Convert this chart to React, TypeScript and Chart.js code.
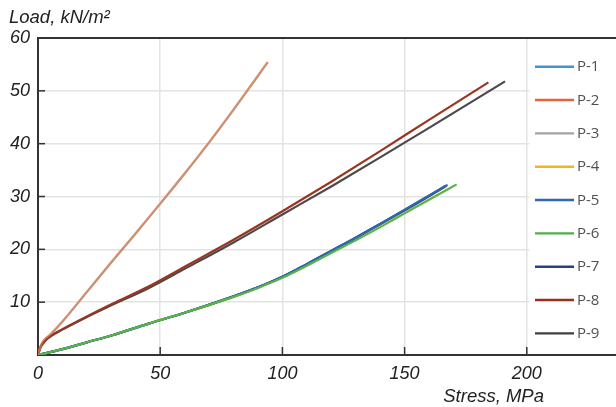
import React, { useEffect, useRef } from "react";
import { Chart, registerables } from "chart.js";

Chart.register(...registerables);

// ---- data ----
const seriesNames = ["P-1", "P-2", "P-3", "P-4", "P-5", "P-6", "P-7", "P-8", "P-9"];
const legendColors = ["#3d94d6", "#e3643a", "#a3a3a3", "#f3b51c", "#2f68ad", "#4fae4a", "#26408a", "#9c2e1f", "#3e3e3e"];

// steep group (P-2, P-3)
const steepX = [0, 1, 2, 5, 10, 20, 30, 40, 50, 60, 70, 80, 90, 94];
const p2Y = [0, 1.6, 2.6, 3.9, 6.4, 12.0, 17.6, 23.1, 28.7, 34.4, 40.3, 46.5, 52.9, 55.5];
const p3Y = [0, 1.5, 2.5, 3.8, 6.3, 11.9, 17.5, 23.0, 28.6, 34.3, 40.2, 46.4, 52.8, 55.4];

// middle group (P-8, P-9)
const p8X = [0, 1, 3, 5, 10, 20, 30, 45, 60, 80, 100, 120, 140, 160, 184.3];
const p8Y = [0, 1.5, 2.8, 3.6, 4.9, 7.3, 9.6, 12.9, 16.7, 21.8, 27.2, 32.8, 38.6, 44.5, 51.6];
const p9X = [0, 1, 3, 5, 10, 20, 30, 45, 60, 80, 100, 120, 140, 160, 191.1];
const p9Y = [0, 1.4, 2.7, 3.5, 4.8, 7.2, 9.4, 12.6, 16.3, 21.3, 26.6, 31.9, 37.4, 43.0, 51.8];

// lower group (P-1, P-4, P-5, P-6, P-7)
const lowX = [0, 10, 20, 30, 45, 60, 80, 90, 100, 110, 120, 130, 140, 150, 160];
const p1Y = [0, 1.1, 2.4, 3.7, 5.9, 8.0, 11.1, 12.8, 14.8, 17.2, 19.7, 22.2, 24.8, 27.4, 30.1];
const p4Y = [0, 1.1, 2.4, 3.7, 5.9, 8.0, 11.0, 12.8, 14.7, 17.1, 19.6, 22.1, 24.7, 27.3, 30.0];
const p5Y = [0, 1.1, 2.4, 3.7, 5.9, 8.0, 11.1, 12.8, 14.8, 17.2, 19.7, 22.2, 24.8, 27.5, 30.2];
const p6Y = [0, 1.1, 2.4, 3.7, 5.9, 8.0, 11.0, 12.7, 14.6, 16.9, 19.3, 21.7, 24.2, 26.8, 29.4];
const p7Y = [0, 1.1, 2.4, 3.7, 5.9, 8.0, 11.1, 12.8, 14.8, 17.2, 19.7, 22.2, 24.8, 27.4, 30.1];
const lowEndX = { p1: 166.5, p4: 167.0, p5: 167.6, p6: 171.3, p7: 167.2 };
const lowEndY = { p1: 32.0, p4: 31.9, p5: 32.2, p6: 32.3, p7: 32.1 };

const xTicks = [0, 50, 100, 150, 200];
const yTicks = [10, 20, 30, 40, 50, 60];
const xTitle = "Stress, MPa";
const yTitle = "Load, kN/m²";

function pts(xs: number[], ys: number[]) {
  return xs.map((x, i) => ({ x, y: ys[i] }));
}

export default function App() {
  const ref = useRef<HTMLCanvasElement | null>(null);

  useEffect(() => {
    document.body.style.margin = "0";
    const canvas = ref.current;
    if (!canvas) return;

    const lineCols = [
      legendColors[0],
      "rgba(228,128,80,0.62)",
      "#b0a8a4",
      legendColors[3],
      legendColors[4],
      "#5cb24a",
      legendColors[6],
      "#983622",
      "#4a4a4a",
    ];
    const dataSets = [
      pts([...lowX, lowEndX.p1], [...p1Y, lowEndY.p1]),
      pts(steepX, p2Y),
      pts(steepX, p3Y),
      pts([...lowX, lowEndX.p4], [...p4Y, lowEndY.p4]),
      pts([...lowX, lowEndX.p5], [...p5Y, lowEndY.p5]),
      pts([...lowX, lowEndX.p6], [...p6Y, lowEndY.p6]),
      pts([...lowX, lowEndX.p7], [...p7Y, lowEndY.p7]),
      pts(p8X, p8Y),
      pts(p9X, p9Y),
    ];
    const orders = [3, 0, 1, 4, 1, 0, 2, 0, 1];

    const overlay = {
      id: "overlay",
      afterDraw(chart: any) {
        const ctx = chart.ctx;
        const xs = chart.scales.x;
        const ys = chart.scales.y;
        const area = chart.chartArea;
        ctx.save();
        // inward tick marks
        ctx.strokeStyle = "#333";
        ctx.lineWidth = 1.5;
        yTicks.forEach((v) => {
          if (v >= 60) return;
          const py = ys.getPixelForValue(v);
          ctx.beginPath();
          ctx.moveTo(area.left, py);
          ctx.lineTo(area.left + 7, py);
          ctx.stroke();
        });
        xTicks.forEach((v) => {
          if (v === 0) return;
          const px = xs.getPixelForValue(v);
          ctx.beginPath();
          ctx.moveTo(px, area.bottom);
          ctx.lineTo(px, area.bottom - 8);
          ctx.stroke();
        });
        // legend box
        const boxLeft = xs.getPixelForValue(200) + 2.5;
        ctx.fillStyle = "#fff";
        ctx.fillRect(boxLeft, area.top + 2, 700 - boxLeft, area.bottom - area.top - 5);
        ctx.font = '15px "Open Sans"';
        ctx.textBaseline = "middle";
        ctx.textAlign = "left";
        seriesNames.forEach((name, i) => {
          const y = 66.7 + i * 33.33;
          ctx.strokeStyle = legendColors[i];
          ctx.lineWidth = 2.4;
          ctx.beginPath();
          ctx.moveTo(535, y);
          ctx.lineTo(574, y);
          ctx.stroke();
          ctx.fillStyle = "#505050";
          ctx.fillText(name, 577, y + 0.5);
        });
        // axis titles
        ctx.fillStyle = "#222";
        ctx.font = 'italic 18.5px "Liberation Sans"';
        ctx.textBaseline = "alphabetic";
        ctx.textAlign = "left";
        ctx.fillText(yTitle, 9, 23);
        ctx.textAlign = "right";
        ctx.fillText(xTitle, 544, 402);
        ctx.restore();
      },
    };

    const tickFont = { family: '"Liberation Sans"', size: 18, style: "italic" as const };

    const chart = new Chart(canvas, {
      type: "line",
      data: {
        datasets: dataSets.map((d, i) => ({
          label: seriesNames[i],
          data: d,
          borderColor: lineCols[i],
          backgroundColor: lineCols[i],
          borderWidth: 2.2,
          pointRadius: 0,
          fill: false,
          cubicInterpolationMode: "monotone" as const,
          order: orders[i],
        })),
      },
      options: {
        responsive: false,
        animation: false,
        maintainAspectRatio: false,
        layout: { padding: { top: 38, left: 0, right: 0, bottom: 0 } },
        plugins: { legend: { display: false }, tooltip: { enabled: false } },
        scales: {
          x: {
            type: "linear",
            min: 0,
            max: 236.5,
            afterFit: (s: any) => {
              s.height = 52;
              s.paddingLeft = 0;
              s.paddingRight = 0;
            },
            ticks: {
              stepSize: 50,
              autoSkip: false,
              maxRotation: 0,
              padding: 8,
              color: "#222",
              font: tickFont,
              callback: (v: any) => (xTicks.includes(Number(v)) ? String(v) : ""),
            },
            grid: {
              drawTicks: false,
              lineWidth: 1.5,
              color: (c: any) =>
                c.tick && xTicks.includes(c.tick.value) && c.tick.value !== 0 ? "#e3e3e3" : "rgba(0,0,0,0)",
            },
            border: { color: "#333", width: 2 },
          },
          y: {
            min: 0,
            max: 60,
            afterFit: (s: any) => {
              s.width = 38;
              s.paddingTop = 0;
              s.paddingBottom = 0;
            },
            ticks: {
              stepSize: 10,
              padding: 8,
              color: "#222",
              font: tickFont,
              callback: (v: any) => (yTicks.includes(Number(v)) ? String(v) : ""),
            },
            grid: {
              drawTicks: false,
              lineWidth: (c: any) => (c.tick && c.tick.value === 60 ? 2 : 1.5),
              color: (c: any) =>
                c.tick && c.tick.value === 60 ? "#333" : c.tick && c.tick.value === 0 ? "rgba(0,0,0,0)" : "#e3e3e3",
            },
            border: { color: "#333", width: 2 },
          },
        },
      },
      plugins: [overlay],
    });

    return () => chart.destroy();
  }, []);

  return (
    <div style={{ position: "fixed", left: 0, top: 0, width: 616, height: 407, background: "#fff" }}>
      <canvas ref={ref} width={616} height={407} style={{ display: "block", width: 616, height: 407 }} />
    </div>
  );
}
